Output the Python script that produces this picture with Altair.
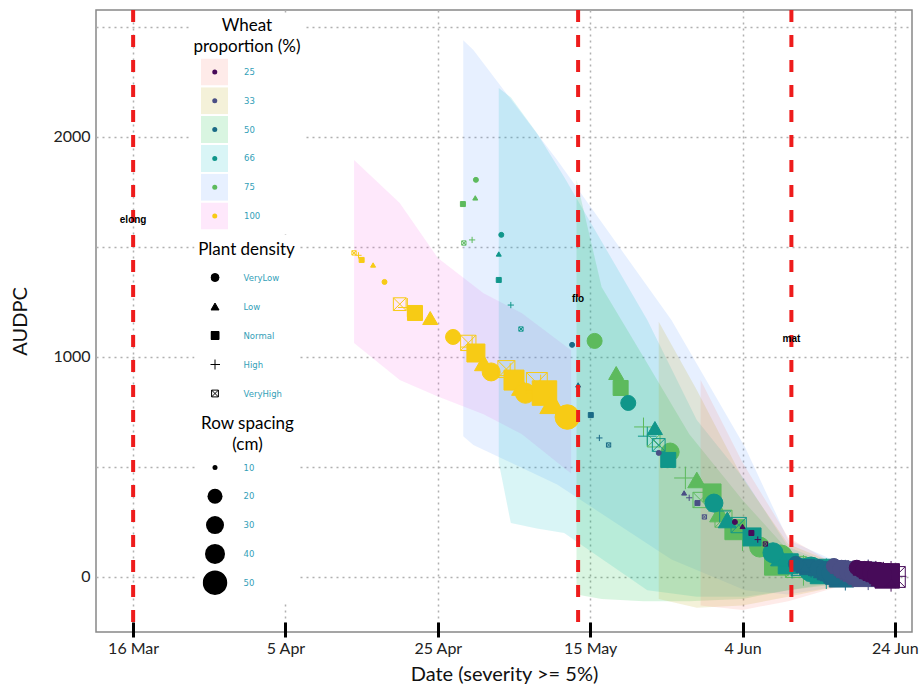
import altair as alt
import pandas as pd

YEAR = "2020-"

# ---------------- categories ----------------
WHEAT_LEVELS = ["25", "33", "50", "66", "75", "100"]
POINT_COLORS = ["#470b59", "#4a4f85", "#1b6a86", "#10968a", "#5dba5d", "#f7cb15"]
RIBBON_LEVELS = [25, 33, 50, 66, 75, 100]
RIBBON_COLORS = ["#F8766D", "#B79F00", "#00BA38", "#00BFC4", "#619CFF", "#F564E3"]

DENSITY_LEVELS = ["VeryLow", "Low", "Normal", "High", "VeryHigh"]
CROSS = "M-1.25,0L1.25,0M0,-1.25L0,1.25"
BOXX = ("M-0.85,-0.85L0.85,-0.85M0.85,-0.85L0.85,0.85M0.85,0.85L-0.85,0.85"
        "M-0.85,0.85L-0.85,-0.85M-0.85,-0.85L0.85,0.85M0.85,-0.85L-0.85,0.85")
DENSITY_SHAPES = ["circle", "triangle-up", "square", CROSS, BOXX]
SPACING_LEVELS = [10, 20, 30, 40, 50]
SPACING_SIZES = [25, 225, 324, 400, 600]

# order of the 25 values of each wheat proportion: spacing blocks of 5 densities
BLOCK_DENSITY = ["VeryHigh", "High", "Normal", "Low", "VeryLow"]

# ---------------- point values (date, AUDPC) ----------------
W100_DATE = ["04-14T00", "04-14T14", "04-15T00", "04-16T12", "04-18T00",
             "04-20T00", "04-21T00", "04-22T00", "04-24T00", "04-27T00",
             "04-29T00", "04-29T12", "04-30T00", "05-01T00", "05-02T00",
             "05-04T00", "05-04T12", "05-05T00", "05-06T00", "05-06T12",
             "05-08T00", "05-08T12", "05-09T00", "05-10T00", "05-12T00"]
W100_AUDPC = [1473, 1462, 1441, 1418, 1341, 1240, 1225, 1200, 1177, 1091,
              1064, 1045, 1018, 973, 932, 945, 915, 895, 865, 835,
              882, 850, 836, 791, 727]

W75_DATE = ["04-28T10", "04-29T12", "04-28T07", "04-29T22", "04-30T00",
            "05-23T08", "05-22T00", "05-19T00", "05-18T10", "05-15T14",
            "05-29T12", "05-27T12", "05-31T00", "05-29T00", "05-25T12",
            "06-01T12", "06-04T00", "06-03T00", "06-01T00", "06-06T06",
            "06-11T00", "06-12T00", "06-08T12", "06-10T00", "06-09T00"]
W75_AUDPC = [1518, 1532, 1695, 1723, 1805, 620, 682, 859, 927, 1073,
             350, 450, 382, 441, 568, 265, 175, 215, 290, 136,
             45, 30, 64, 70, 90]

W66_DATE = ["05-05T22", "05-04T14", "05-03T00", "05-03T00", "05-03T08",
            "05-24T00", "05-22T12", "05-25T06", "05-23T12", "05-20T00",
            "06-03T12", "06-01T00", "06-05T06", "06-02T00", "05-31T06",
            "06-11T12", "06-10T12", "06-10T00", "06-09T00", "06-08T00",
            "06-15T12", "06-15T00", "06-14T12", "06-14T00", "06-13T00"]
W66_AUDPC = [1127, 1236, 1350, 1468, 1555, 600, 640, 532, 677, 791,
             236, 300, 182, 259, 336, 45, 50, 60, 90, 110,
             20, 15, 25, 30, 35]

W50_DATE = ["05-17T10", "05-16T05", "05-15T02", "05-13T10", "05-12T15",
            "06-13T12", "06-13T00", "06-12T12", "06-12T00", "06-11T00",
            "06-16T00", "06-15T12", "06-15T00", "06-14T12", "06-14T00",
            "06-17T00", "06-16T12", "06-16T00", "06-15T12", "06-15T00",
            "06-18T00", "06-17T12", "06-17T00", "06-16T12", "06-16T00"]
W50_AUDPC = [600, 632, 736, 873, 1055, 35, 40, 45, 50, 60,
             20, 25, 28, 32, 38, 10, 15, 18, 22, 25,
             5, 8, 10, 15, 20]

W33_DATE = ["05-30T00", "05-28T00", "05-29T02", "05-27T08", "05-24T00",
            "06-18T00", "06-17T12", "06-17T00", "06-16T12", "06-16T00",
            "06-19T00", "06-18T12", "06-18T00", "06-17T12", "06-17T00",
            "06-20T00", "06-19T12", "06-19T00", "06-18T12", "06-18T00",
            "06-21T00", "06-20T12", "06-20T00", "06-19T12", "06-19T00"]
W33_AUDPC = [273, 360, 336, 382, 564, 30, 35, 40, 45, 50,
             20, 25, 28, 32, 35, 12, 15, 18, 20, 25,
             8, 10, 12, 15, 18]

W25_DATE = ["06-07T00", "06-06T00", "06-05T04", "06-04T00", "06-03T00",
            "06-21T00", "06-20T12", "06-20T00", "06-19T12", "06-19T00",
            "06-22T00", "06-21T12", "06-21T00", "06-20T12", "06-20T00",
            "06-23T00", "06-22T12", "06-22T00", "06-21T12", "06-21T00",
            "06-24T00", "06-23T12", "06-23T00", "06-22T12", "06-22T00"]
W25_AUDPC = [150, 170, 200, 230, 250, 30, 32, 35, 38, 42,
             20, 22, 25, 28, 30, 10, 12, 15, 18, 20,
             0, 3, 5, 8, 10]

# ---------------- ribbons (date, lower, upper) ----------------
R100_DATE = ["04-14T00", "04-20T00", "04-25T00", "05-01T00", "05-06T00", "05-12T12"]
R100_LOW = [1064, 895, 820, 740, 650, 470]
R100_HIGH = [1895, 1700, 1450, 1290, 1200, 1030]

R75_DATE = ["04-28T08", "04-29T16", "05-10T16", "05-25T16", "06-04T08", "06-10T00", "06-17T00", "06-24T00"]
R75_LOW = [640, 600, 420, 80, -60, -80, -40, -10]
R75_HIGH = [2440, 2395, 1895, 1168, 590, 168, 60, 20]

R66_DATE = ["05-03T00", "05-04T14", "05-08T00", "05-11T14", "05-22T12", "05-29T00", "06-04T08", "06-10T00", "06-17T00", "06-24T00"]
R66_LOW = [520, 245, 220, 200, -60, -90, -90, -60, -20, -10]
R66_HIGH = [2223, 2180, 2018, 1818, 1168, 714, 441, 136, 40, 15]

R50_DATE = ["05-13T05", "05-16T12", "05-22T00", "05-28T00", "06-04T00", "06-10T00", "06-17T00", "06-24T00"]
R50_LOW = [-80, -100, -110, -110, -100, -60, -30, -10]
R50_HIGH = [1805, 1318, 1000, 650, 350, 120, 40, 10]

R33_DATE = ["05-24T00", "05-29T00", "06-04T00", "06-10T00", "06-17T00", "06-24T00"]
R33_LOW = [-100, -140, -130, -90, -40, -10]
R33_HIGH = [1160, 850, 450, 150, 50, 15]

R25_DATE = ["05-29T12", "06-04T00", "06-10T00", "06-16T00", "06-24T00"]
R25_LOW = [-130, -150, -110, -50, -15]
R25_HIGH = [895, 520, 180, 60, 20]

# ---------------- growth stages ----------------
STAGE_NAMES = ["elong", "flo", "mat"]
STAGE_DATES = ["03-16T00", "05-13T10", "06-10T10"]
STAGE_LABEL_Y = [1623, 1264, 1082]

TICK_DATES = [(3, 16), (4, 5), (4, 25), (5, 15), (6, 4), (6, 24)]
Y_GRID = [0, 500, 1000, 1500, 2000, 2500]


def ts(s):
    return YEAR + s + ":00"


rows = []
for w, dates, vals in [("100", W100_DATE, W100_AUDPC), ("75", W75_DATE, W75_AUDPC),
                       ("66", W66_DATE, W66_AUDPC), ("50", W50_DATE, W50_AUDPC),
                       ("33", W33_DATE, W33_AUDPC), ("25", W25_DATE, W25_AUDPC)]:
    for i, (d, v) in enumerate(zip(dates, vals)):
        rows.append({"Wheat": w, "Density": BLOCK_DENSITY[i % 5],
                     "Spacing": SPACING_LEVELS[i // 5], "Date": ts(d), "AUDPC": v})
pts_df = pd.DataFrame(rows)

rrows = []
for w, dates, lo, hi in [(100, R100_DATE, R100_LOW, R100_HIGH), (75, R75_DATE, R75_LOW, R75_HIGH),
                         (66, R66_DATE, R66_LOW, R66_HIGH), (50, R50_DATE, R50_LOW, R50_HIGH),
                         (33, R33_DATE, R33_LOW, R33_HIGH), (25, R25_DATE, R25_LOW, R25_HIGH)]:
    for d, a, b in zip(dates, lo, hi):
        rrows.append({"Band": w, "Date": ts(d), "Low": a, "High": b})
rib_df = pd.DataFrame(rrows)

stage_df = pd.DataFrame({"Stage": STAGE_NAMES, "Date": [ts(d) for d in STAGE_DATES],
                         "LabelY": STAGE_LABEL_Y})

FONT = "Lato"
LABEL_TEAL = "#33a0b8"
BLANK = "\u2800"  # blank glyph used to widen the legend entries

x_scale = alt.Scale(domain=[alt.DateTime(year=2020, month=3, date=11, hours=3),
                            alt.DateTime(year=2020, month=6, date=26, hours=6)])
y_scale = alt.Scale(domain=[-250, 2577], nice=False, zero=False)

x_axis = alt.Axis(values=[alt.DateTime(year=2020, month=m, date=d) for m, d in TICK_DATES],
                  format="%-d %b", labelFont=FONT, labelFontSize=16, labelColor="#222",
                  title="Date (severity >= 5%)", titleFont=FONT, titleFontSize=20,
                  titleFontWeight="normal", titleColor="#111", titlePadding=8,
                  domain=False, ticks=True, tickColor="black", tickWidth=3, tickSize=15,
                  offset=-10, labelPadding=3, grid=True, gridDash=[2, 4],
                  gridColor="#b0b0b0", gridWidth=1.5)
y_axis = alt.Axis(values=Y_GRID, format="d",
                  labelExpr="datum.value % 1000 == 0 ? datum.label : ''",
                  labelFont=FONT, labelFontSize=16, labelColor="#222", labelPadding=6,
                  title="AUDPC", titleFont=FONT, titleFontSize=20, titleFontWeight="normal",
                  titleColor="#111", titlePadding=22, domain=False, ticks=False,
                  grid=True, gridDash=[2, 4], gridColor="#b0b0b0", gridWidth=1.5)

common_leg = dict(orient="none", titleFont=FONT, titleFontSize=17, titleFontWeight="normal",
                  titleColor="black", labelFont="DejaVu Sans", labelFontSize=8.5,
                  labelColor=LABEL_TEAL, padding=4)
mid_title = dict(titleAlign="center", titleAnchor="middle")

ribbon_legend = alt.Legend(title=["Wheat", "proportion (%)"], legendX=93, legendY=4,
                           symbolType="square", symbolSize=729, symbolOpacity=0.15,
                           symbolStrokeWidth=0, labelOpacity=0, labelOffset=48,
                           titleLineHeight=21, rowPadding=1.8, clipHeight=27,
                           titlePadding=2.5, fillColor="white", **mid_title, **common_leg)
color_legend = alt.Legend(title=None, legendX=93, legendY=44.5,
                          symbolType="circle", symbolSize=25, symbolStrokeWidth=0,
                          symbolOffset=17.5, labelOffset=25,
                          rowPadding=1.8, clipHeight=27, **common_leg)
shape_legend = alt.Legend(title="Plant density", legendX=98.5, legendY=227.5,
                          symbolSize=64, symbolFillColor="black", symbolStrokeColor="black",
                          symbolStrokeWidth=1, labelOffset=24, rowPadding=2, clipHeight=27,
                          titlePadding=5.5, fillColor="white", **mid_title, **common_leg)
size_legend = alt.Legend(title=["Row spacing", "(cm)"], legendX=100.5, legendY=402,
                         symbolType="circle", symbolFillColor="black", symbolStrokeColor="black",
                         symbolStrokeWidth=0, labelOffset=16,
                         labelExpr="datum.label + '" + BLANK * 6 + "'",
                         titleLineHeight=21, rowPadding=1.8, clipHeight=27,
                         titlePadding=0, fillColor="white", **mid_title, **common_leg)

ribbons = alt.Chart(rib_df).mark_area(opacity=0.15, interpolate="linear").encode(
    x=alt.X("Date:T", scale=x_scale, axis=x_axis),
    y=alt.Y("Low:Q", scale=y_scale, axis=y_axis),
    y2="High:Q",
    fill=alt.Fill("Band:N", scale=alt.Scale(domain=RIBBON_LEVELS, range=RIBBON_COLORS),
                  legend=ribbon_legend),
)

points = alt.Chart(pts_df).mark_point(filled=True, opacity=1, strokeWidth=1).encode(
    x="Date:T",
    y="AUDPC:Q",
    color=alt.Color("Wheat:N", scale=alt.Scale(domain=WHEAT_LEVELS, range=POINT_COLORS),
                    legend=color_legend),
    stroke=alt.Stroke("Wheat:N", scale=alt.Scale(domain=WHEAT_LEVELS, range=POINT_COLORS),
                      legend=None),
    shape=alt.Shape("Density:N", scale=alt.Scale(domain=DENSITY_LEVELS, range=DENSITY_SHAPES),
                    legend=shape_legend),
    size=alt.Size("Spacing:N", scale=alt.Scale(type="ordinal", domain=SPACING_LEVELS,
                                               range=SPACING_SIZES),
                  legend=size_legend),
)

rules = alt.Chart(stage_df).mark_rule(color="#ee1c1c", strokeWidth=4, strokeDash=[12, 13]).encode(
    x="Date:T")
stage_text = alt.Chart(stage_df).mark_text(font="Liberation Sans", fontWeight="bold",
                                           fontSize=10, color="black").encode(
    x="Date:T", y="LabelY:Q", text="Stage:N")

chart = alt.layer(ribbons, points, rules, stage_text).properties(
    width=816, height=622,
    padding={"left": 96, "top": 10, "right": 12, "bottom": 59},
    autosize=alt.AutoSizeParams(type="none"),
    background="white",
).configure_view(stroke="#888", strokeWidth=1.5)

chart.save("out.html", embed_options={"renderer": "svg", "actions": False})
